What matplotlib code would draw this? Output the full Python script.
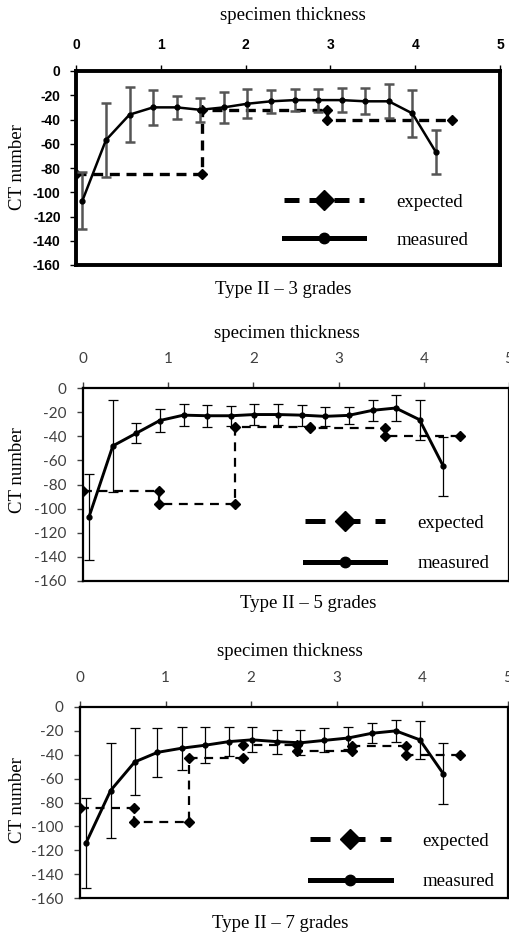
import matplotlib
matplotlib.use('Agg')
import matplotlib.pyplot as plt
import numpy as np

plt.rcParams['axes.unicode_minus'] = False

# ---- data ----
# measured CT number along the specimen (16 slices), mean and error bar half-range
thick1 = [0.075, 0.353, 0.631, 0.909, 1.187, 1.465, 1.743, 2.021, 2.299, 2.577, 2.855, 3.133, 3.411, 3.689, 3.967, 4.245]
ct1 = [-107, -57, -36, -30, -30, -32, -30, -27, -25, -24, -24, -24, -25, -25, -35, -67]
err1 = [23.5, 30.7, 22.4, 14.4, 9.5, 9.8, 12.5, 11.8, 9.6, 8.9, 9.5, 10, 10.8, 14, 19.3, 18.3]
edges1 = [0, 1.48, 2.96, 4.43]
grades1 = [-85, -32, -40]

thick2 = [0.07, 0.35, 0.625, 0.90, 1.18, 1.457, 1.74, 2.01, 2.29, 2.566, 2.84, 3.117, 3.40, 3.67, 3.95, 4.23]
ct2 = [-107, -48, -37.5, -27, -22.5, -23, -23, -22, -22, -22.5, -23.5, -22.7, -18.5, -16.6, -26.3, -65]
err2 = [35.5, 38.3, 8.4, 9.5, 9.2, 9, 8.2, 8.5, 8.5, 8.7, 8, 6.9, 8.8, 11.1, 16.6, 24.7]
edges2 = [0, 0.89, 1.78, 2.66, 3.55, 4.43]
grades2 = [-85, -96, -32, -33, -40]

thick3 = [0.07, 0.357, 0.64, 0.905, 1.19, 1.464, 1.74, 2.01, 2.30, 2.575, 2.85, 3.13, 3.41, 3.69, 3.97, 4.245]
ct3 = [-114, -70, -46, -38, -34.5, -32, -29, -27.5, -29, -30, -28, -26, -22, -20, -27.5, -56]
err3 = [38, 39.5, 28, 20.5, 18, 15, 12, 10.5, 10, 10.5, 10, 9, 8.5, 9, 16, 25.5]
edges3 = [0, 0.635, 1.27, 1.905, 2.54, 3.175, 3.81, 4.445]
grades3 = [-85, -96, -43, -32, -37, -33, -40]

captions = ['Type II \u2013 3 grades', 'Type II \u2013 5 grades', 'Type II \u2013 7 grades']

W, H = 510, 935
fig = plt.figure(figsize=(W / 100, H / 100), dpi=100)
serif = 'Liberation Serif'


def box(l, t, r, b):
    return [l / W, 1 - b / H, (r - l) / W, (b - t) / H]


def ftext(x, y, s, **kw):
    fig.text(x / W, 1 - y / H, s, ha='center', va='center', family=serif, fontsize=13.5, **kw)


def stepLine(edges, grades):
    xs, ys = [], []
    for i, g in enumerate(grades):
        xs += [edges[i], edges[i + 1]]
        ys += [g, g]
    return xs, ys


def drawPanel(rect, thick, ct, err, edges, grades, heavy, legAnchor, legSpacing):
    ax = fig.add_axes(rect)
    ex, ey = stepLine(edges, grades)
    if heavy:
        spineW, errCol, errW, lineW, expW, dash = 2.8, '#555555', 1.8, 1.8, 2.4, (3, 2)
        tickFont = dict(family='Liberation Sans', weight='bold', size=10)
        tickCol = 'black'
    else:
        spineW, errCol, errW, lineW, expW, dash = 1.6, 'black', 0.9, 2.1, 1.6, (4, 3)
        tickFont = dict(family='Lato', size=11)
        tickCol = '#404040'
    ax.plot(ex, ey, color='black', lw=expW, dashes=dash, marker='D', ms=5.5,
            label='expected', zorder=2)
    ax.errorbar(thick, ct, yerr=err, fmt='none', ecolor=errCol, elinewidth=errW,
                capsize=3.5, capthick=errW, zorder=3)
    ax.plot(thick, ct, color='black', lw=lineW, marker='o', ms=3.5,
            label='measured', zorder=4)

    ax.set_xlim(0, 5)
    ax.set_ylim(-160, 0)
    ax.xaxis.tick_top()
    ax.set_xticks(range(6))
    ax.set_yticks(range(-160, 1, 20))
    ax.tick_params(axis='x', length=4, width=1, pad=10 if heavy else 12, colors=tickCol)
    ax.tick_params(axis='y', length=4, width=1, pad=7 if heavy else 8, colors=tickCol)
    for lab in ax.get_xticklabels() + ax.get_yticklabels():
        lab.set_fontfamily(tickFont['family'])
        lab.set_fontsize(tickFont['size'])
        if 'weight' in tickFont:
            lab.set_fontweight(tickFont['weight'])
    for sp in ax.spines.values():
        sp.set_linewidth(spineW)
        sp.set_color('black')

    leg = ax.legend(loc='lower right', bbox_to_anchor=legAnchor, frameon=False,
                    borderaxespad=0, borderpad=0,
                    handlelength=4.3, handletextpad=1.7, labelspacing=legSpacing,
                    numpoints=1, prop={'family': serif, 'size': 13.5})
    for ln in leg.get_lines():
        ln.set_linewidth(3.6)
    leg.get_lines()[0].set_markersize(10)
    leg.get_lines()[1].set_markersize(7.5)
    return ax


drawPanel(box(76, 71, 500, 265), thick1, ct1, err1, edges1, grades1, True, (0.925, 0.085), 1.1)
drawPanel(box(83, 388, 509, 581), thick2, ct2, err2, edges2, grades2, False, (0.953, 0.045), 1.25)
drawPanel(box(80, 707, 508, 898), thick3, ct3, err3, edges3, grades3, False, (0.968, 0.04), 1.25)

# titles, axis names and captions
for (tx, ty), (yx, yy), (cx, cy), cap in zip([(293, 15), (287, 333), (290, 652)],
                                             [(18, 167), (18, 470), (18, 800)],
                                             [(283, 290), (308, 604), (280, 923)],
                                             captions):
    ftext(tx, ty, 'specimen thickness')
    ftext(yx, yy, 'CT number', rotation=90)
    ftext(cx, cy, cap)

fig.savefig('out.png', dpi=100)
